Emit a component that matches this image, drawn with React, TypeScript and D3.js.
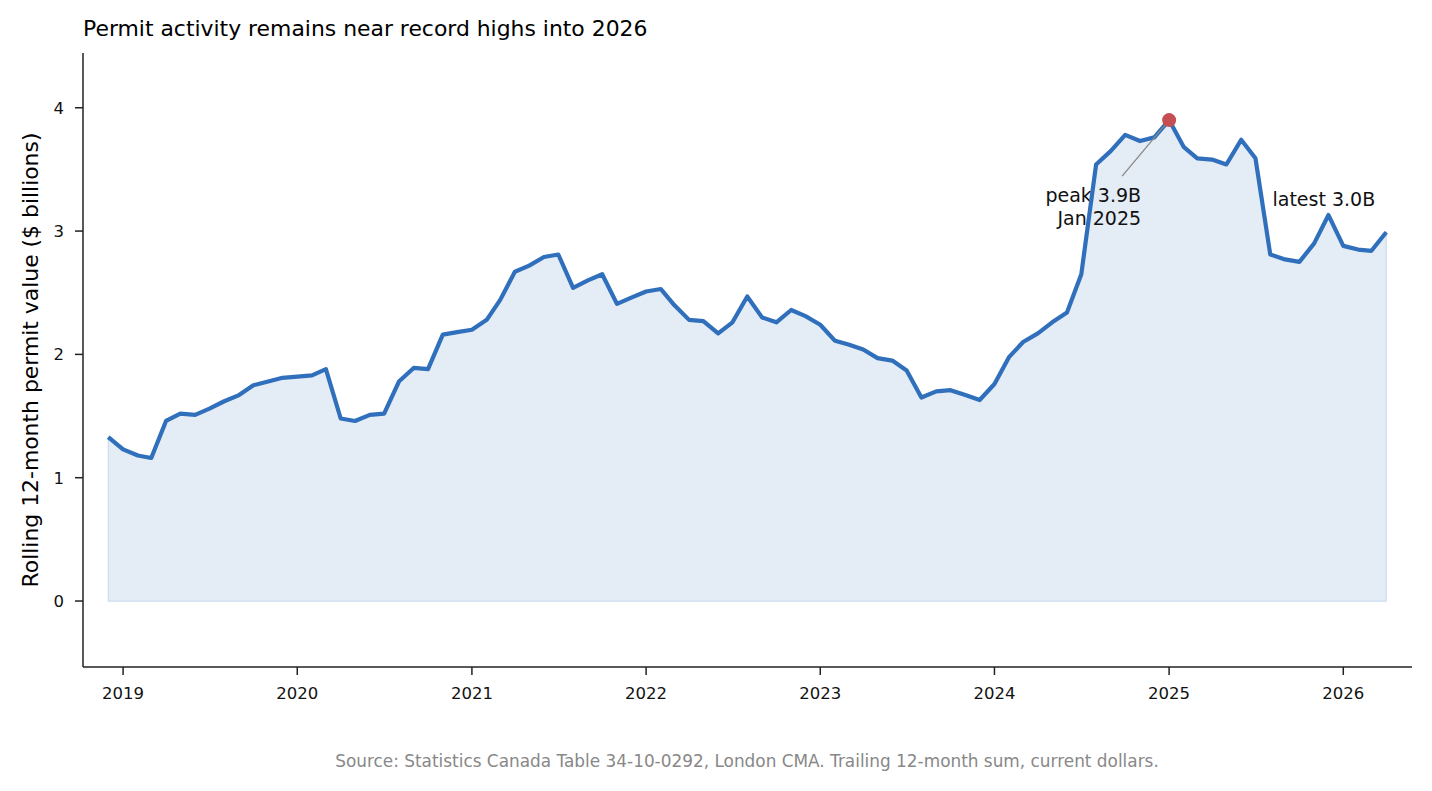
import React from "react";
import * as d3 from "d3";

const startYear = 2018;
const startMonth = 11; // December (0-based)
const values: number[] = [
  1.33, 1.23, 1.18, 1.16, 1.46, 1.52, 1.51, 1.56, 1.62, 1.67, 1.75, 1.78, 1.81,
  1.82, 1.83, 1.88, 1.48, 1.46, 1.51, 1.52, 1.78, 1.89, 1.88, 2.16, 2.18,
  2.2, 2.28, 2.44, 2.67, 2.72, 2.79, 2.81, 2.54, 2.6, 2.65, 2.41, 2.46,
  2.51, 2.53, 2.4, 2.28, 2.27, 2.17, 2.26, 2.47, 2.3, 2.26, 2.36, 2.31,
  2.24, 2.11, 2.08, 2.04, 1.97, 1.95, 1.87, 1.65, 1.7, 1.71, 1.67, 1.63,
  1.76, 1.98, 2.1, 2.17, 2.26, 2.34, 2.65, 3.54, 3.65, 3.78, 3.73, 3.76,
  3.9, 3.68, 3.59, 3.58, 3.54, 3.74, 3.59, 2.81, 2.77, 2.75, 2.9, 3.13,
  2.88, 2.85, 2.84, 2.99,
];
const dates: Date[] = values.map((_, i) => new Date(startYear, startMonth + i, 1));
const yTicks = [0, 1, 2, 3, 4];
const xTickYears = [2019, 2020, 2021, 2022, 2023, 2024, 2025, 2026];

const title = "Permit activity remains near record highs into 2026";
const yLabel = "Rolling 12-month permit value ($ billions)";
const source = "Source: Statistics Canada Table 34-10-0292, London CMA. Trailing 12-month sum, current dollars.";

const W = 1432, H = 791;
const left = 83, right = 1412, top = 53, bottom = 667;
const font = "DejaVu Sans";

export default function App() {
  const x = d3.scaleTime().domain([new Date(2018, 9, 9), new Date(2026, 4, 25)]).range([left, right]);
  const y = d3.scaleLinear().domain([-0.535, 4.444]).range([bottom, top]);
  const data = values.map((v, i) => ({ d: dates[i], v }));
  const line = d3.line<{ d: Date; v: number }>().x((p) => x(p.d)).y((p) => y(p.v));
  const area = d3.area<{ d: Date; v: number }>().x((p) => x(p.d)).y0(y(0)).y1((p) => y(p.v));

  let peakIdx = 0;
  values.forEach((v, i) => { if (v > values[peakIdx]) peakIdx = i; });
  const px = x(dates[peakIdx]);
  const py = y(values[peakIdx]);
  const last = values.length - 1;
  const lx = x(dates[last]);
  const ly = y(values[last]);

  return (
    <svg width={W} height={H} style={{ position: "absolute", left: 0, top: 0, background: "#fff" }} fontFamily={font}>
      <rect x={0} y={0} width={W} height={H} fill="#fff" />
      <path d={area(data) || ""} fill="#e4ecf6" stroke="#cddcef" strokeWidth={1.2} />
      <text x={px - 28} y={py + 82} textAnchor="end" fontSize={19} fill="#111">peak {values[peakIdx].toFixed(1)}B</text>
      <text x={px - 28} y={py + 105} textAnchor="end" fontSize={19} fill="#111">Jan 2025</text>
      <text x={lx - 11} y={ly - 26} textAnchor="end" fontSize={19} fill="#111">latest {values[last].toFixed(1)}B</text>
      <path d={line(data) || ""} fill="none" stroke="#2f6fbc" strokeWidth={4.2} strokeLinejoin="round" />
      <line x1={px - 47} y1={py + 56} x2={px} y2={py} stroke="#888" strokeWidth={1.3} />
      <circle cx={px} cy={py} r={7} fill="#c44e52" />

      {/* spines */}
      <line x1={left} y1={top} x2={left} y2={bottom} stroke="#222" strokeWidth={1.5} />
      <line x1={left} y1={bottom} x2={right} y2={bottom} stroke="#222" strokeWidth={1.5} />
      {yTicks.map((t) => (
        <g key={t}>
          <line x1={left - 8} x2={left} y1={y(t)} y2={y(t)} stroke="#222" strokeWidth={1.5} />
          <text x={left - 19} y={y(t)} dy="0.36em" textAnchor="end" fontSize={16.5} fill="#111">{t}</text>
        </g>
      ))}
      {xTickYears.map((yr) => {
        const tx = x(new Date(yr, 0, 1));
        return (
          <g key={yr}>
            <line x1={tx} x2={tx} y1={bottom} y2={bottom + 8} stroke="#222" strokeWidth={1.5} />
            <text x={tx} y={bottom + 32} textAnchor="middle" fontSize={16.5} fill="#111">{yr}</text>
          </g>
        );
      })}
      <text x={left} y={36} fontSize={21.9} fill="#000">{title}</text>
      <text transform={`translate(38,360) rotate(-90)`} textAnchor="middle" fontSize={21.9} fill="#000">{yLabel}</text>
      <text x={747} y={767} textAnchor="middle" fontSize={16.9} fill="#888">{source}</text>
    </svg>
  );
}
